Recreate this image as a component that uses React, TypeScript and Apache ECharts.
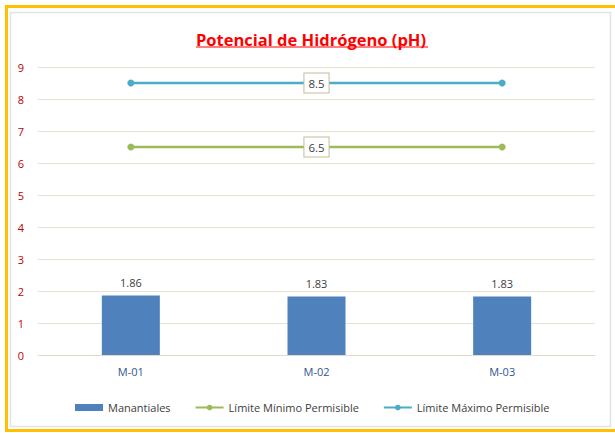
import React, { useEffect, useRef } from "react";
import * as echarts from "echarts";

const categories = ["M-01", "M-02", "M-03"];
const manantiales = [1.86, 1.83, 1.83];
const limiteMinimo = [6.5, 6.5, 6.5];
const limiteMaximo = [8.5, 8.5, 8.5];
const labeledIndex = 1;

const FONT = "'Open Sans', sans-serif";

export default function App() {
  const ref = useRef<HTMLDivElement>(null);
  useEffect(() => {
    if (!ref.current) return;
    const chart = echarts.init(ref.current, null, { renderer: "svg" });
    const lineData = (arr: number[]) =>
      arr.map((v, i) =>
        i === labeledIndex
          ? {
              value: v,
              label: {
                show: true,
                position: "inside",
                color: "#404040",
                fontSize: 11.5,
                fontFamily: FONT,
                backgroundColor: "#ffffff",
                borderColor: "#c4bd97",
                borderWidth: 1,
                padding: [4, 4, 3, 4],
              },
            }
          : { value: v }
      );
    chart.setOption({
      animation: false,
      backgroundColor: "#ffffff",
      graphic: [
        {
          type: "rect",
          shape: { x: 6.5, y: 6.5, width: 640, height: 424 },
          style: { fill: "none", stroke: "#ffc000", lineWidth: 3 },
          silent: true,
        },
        {
          type: "rect",
          shape: { x: 10.5, y: 12.5, width: 600, height: 414 },
          style: { fill: "none", stroke: "#e3e3e3", lineWidth: 1.5 },
          silent: true,
        },
        {
          type: "line",
          shape: { x1: 196, y1: 47, x2: 428, y2: 47 },
          style: { stroke: "#ff0000", lineWidth: 1.2 },
          silent: true,
        },
      ],
      title: {
        text: "Potencial de Hidrógeno (pH)",
        left: 306,
        textAlign: "center",
        top: 26,
        textStyle: {
          color: "#ff0000",
          fontWeight: "bold",
          fontSize: 16.5,
          fontFamily: FONT,
        },
      },
      grid: { left: 38, right: 20, top: 67, bottom: 78 },
      legend: {
        top: 397,
        left: 70,
        itemGap: 24,
        itemWidth: 28,
        itemHeight: 7,
        textStyle: { color: "#404040", fontSize: 11, fontFamily: FONT },
        data: [
          { name: "Manantiales", icon: "rect" },
          { name: "Límite Mínimo Permisible" },
          { name: "Límite Máximo Permisible" },
        ],
      },
      xAxis: {
        type: "category",
        data: categories,
        axisLine: { show: true, lineStyle: { color: "#e0dcc8" } },
        axisTick: { show: false },
        axisLabel: { color: "#2f5597", fontSize: 11, fontFamily: FONT, margin: 11 },
      },
      yAxis: {
        type: "value",
        min: 0,
        max: 9,
        interval: 1,
        axisLine: { show: false },
        axisTick: { show: false },
        axisLabel: { color: "#c00000", fontSize: 11, fontFamily: FONT, margin: 14 },
        splitLine: { lineStyle: { color: "#e6e2d3", width: 1 } },
      },
      series: [
        {
          name: "Manantiales",
          type: "bar",
          data: manantiales,
          barWidth: 58,
          itemStyle: { color: "#4f81bd" },
          label: {
            show: true,
            position: "top",
            distance: 7,
            color: "#404040",
            fontSize: 11,
            fontFamily: FONT,
          },
        },
        {
          name: "Límite Mínimo Permisible",
          type: "line",
          data: lineData(limiteMinimo),
          symbol: "circle",
          symbolSize: 7,
          lineStyle: { color: "#9bbb59", width: 2.5 },
          itemStyle: { color: "#9bbb59" },
        },
        {
          name: "Límite Máximo Permisible",
          type: "line",
          data: lineData(limiteMaximo),
          symbol: "circle",
          symbolSize: 7,
          lineStyle: { color: "#4bacc6", width: 2.5 },
          itemStyle: { color: "#4bacc6" },
        },
      ],
    });
    return () => chart.dispose();
  }, []);
  return (
    <div
      ref={ref}
      style={{ position: "absolute", left: 0, top: 0, width: 615, height: 433 }}
    />
  );
}
